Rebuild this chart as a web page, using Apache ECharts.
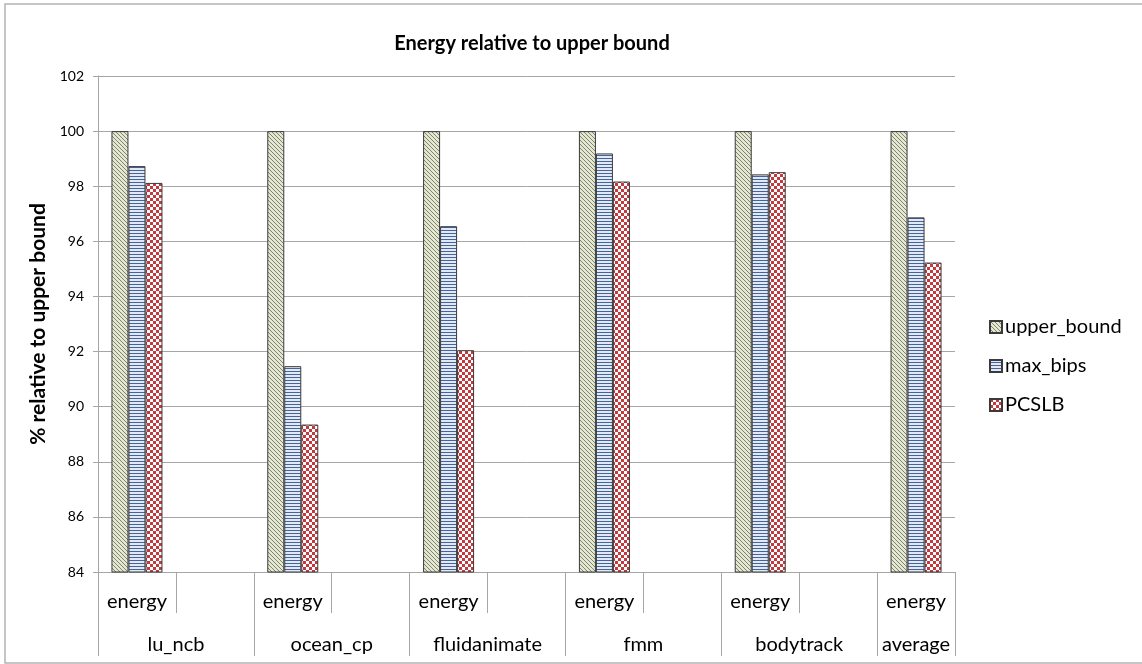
<!DOCTYPE html>
<html>
<head>
<meta charset="utf-8">
<script src="https://cdn.jsdelivr.net/npm/echarts@6/dist/echarts.min.js"></script>
<style>
html,body{margin:0;padding:0;background:#fff;}
#chart{width:1142px;height:664px;}
</style>
</head>
<body>
<div id="chart"></div>
<script>
// ---- data ----
var groups = ['lu_ncb', 'ocean_cp', 'fluidanimate', 'fmm', 'bodytrack', 'average'];
var metric = 'energy';
var seriesNames = ['upper_bound', 'max_bips', 'PCSLB'];
var upperBound = [100, 100, 100, 100, 100, 100];
var maxBips = [98.73, 91.47, 96.55, 99.19, 98.43, 96.87];
var pcslb = [98.12, 89.35, 92.05, 98.17, 98.51, 95.23];
var yTicks = [84, 86, 88, 90, 92, 94, 96, 98, 100, 102];

// build slot layout: each group has "energy" + empty slot, last group only "energy"
var slots = [];
groups.forEach(function (g, i) {
  slots.push(metric);
  if (i < groups.length - 1) slots.push('');
});
function toSlots(vals) {
  var out = [];
  groups.forEach(function (g, i) {
    out.push(vals[i]);
    if (i < groups.length - 1) out.push(null);
  });
  return out;
}
// group boundaries & centers on a 0..N value scale
var boundaries = [0], centers = [], pos = 0;
groups.forEach(function (g, i) {
  var w = (i < groups.length - 1) ? 2 : 1;
  centers.push(pos + w / 2);
  pos += w;
  boundaries.push(pos);
});
var nSlots = pos;

// ---- patterns ----
function pattern(kind) {
  var c = document.createElement('canvas');
  var ctx;
  if (kind === 'diag') {
    c.width = 4; c.height = 4; ctx = c.getContext('2d');
    ctx.fillStyle = '#e4e7d3'; ctx.fillRect(0, 0, 4, 4);
    ctx.fillStyle = '#7f8569';
    for (var i = 0; i < 4; i++) ctx.fillRect(i, i, 1, 1);
  } else if (kind === 'hline') {
    c.width = 4; c.height = 3; ctx = c.getContext('2d');
    ctx.fillStyle = '#e2e9f4'; ctx.fillRect(0, 0, 4, 3);
    ctx.fillStyle = '#44649c'; ctx.fillRect(0, 2, 4, 1);
  } else {
    c.width = 6; c.height = 6; ctx = c.getContext('2d');
    ctx.fillStyle = '#ffffff'; ctx.fillRect(0, 0, 6, 6);
    ctx.fillStyle = '#c23a3d';
    ctx.fillRect(0, 0, 3, 3); ctx.fillRect(3, 3, 3, 3);
  }
  return { image: c, repeat: 'repeat' };
}
var patterns = [pattern('diag'), pattern('hline'), pattern('check')];
var valueSets = [upperBound, maxBips, pcslb];

var FONT = 'Lato';
var chart = echarts.init(document.getElementById('chart'));
var option = {
  animation: false,
  backgroundColor: '#fff',
  textStyle: { fontFamily: FONT },
  title: {
    text: 'Energy relative to upper bound',
    left: 527, top: 29, textAlign: 'center',
    textStyle: { fontFamily: FONT, fontWeight: 'bold', fontSize: 20, color: '#000' }
  },
  legend: {
    orient: 'vertical', left: 984, top: 312,
    itemWidth: 12, itemHeight: 12, itemGap: 19,
    icon: 'rect',
    textStyle: { fontFamily: FONT, fontSize: 20, color: '#000', padding: [0, 0, 0, -2] },
    data: seriesNames
  },
  graphic: [{
    type: 'rect', shape: { x: 5, y: 4, width: 1160, height: 659 },
    style: { fill: 'none', stroke: '#b3b3b3', lineWidth: 1.5 }, silent: true, z: -1
  }],
  grid: { left: 98, right: 187, top: 76, bottom: 92, containLabel: false },
  xAxis: [{
    type: 'category', data: slots, position: 'bottom',
    axisLine: { show: true, lineStyle: { color: '#a6a6a6', width: 1 } },
    axisTick: { show: true, interval: 0, length: 41, lineStyle: { color: '#a6a6a6' } },
    axisLabel: { interval: 0, margin: 20, fontSize: 20, color: '#000', fontFamily: FONT },
    splitLine: { show: false }
  }, {
    type: 'value', min: 0, max: nSlots, position: 'bottom',
    axisLine: { show: false },
    axisTick: { show: true, customValues: boundaries, length: 84, lineStyle: { color: '#a6a6a6' } },
    axisLabel: {
      show: true, customValues: centers, margin: 63, fontSize: 20, color: '#000', fontFamily: FONT,
      formatter: function (v) { var i = centers.indexOf(v); return i >= 0 ? groups[i] : ''; }
    },
    splitLine: { show: false }
  }],
  yAxis: {
    type: 'value', min: yTicks[0], max: yTicks[yTicks.length - 1], interval: 2,
    name: '% relative to upper bound', nameLocation: 'middle', nameRotate: 90, nameGap: 44,
    nameTextStyle: { fontFamily: FONT, fontWeight: 'bold', fontSize: 21, color: '#000' },
    axisLine: { show: true, lineStyle: { color: '#a6a6a6' } },
    axisTick: { show: true, length: 5, lineStyle: { color: '#a6a6a6' } },
    axisLabel: { margin: 14, fontSize: 14, color: '#000', fontFamily: FONT },
    splitLine: { show: true, lineStyle: { color: '#a6a6a6', width: 1 } }
  },
  series: seriesNames.map(function (n, k) {
    return {
      name: n, type: 'bar', xAxisIndex: 0,
      data: toSlots(valueSets[k]),
      barWidth: 17, barGap: '0%',
      itemStyle: { color: patterns[k], borderColor: '#3a3a3a', borderWidth: 1 }
    };
  })
};
chart.setOption(option);
</script>
</body>
</html>
